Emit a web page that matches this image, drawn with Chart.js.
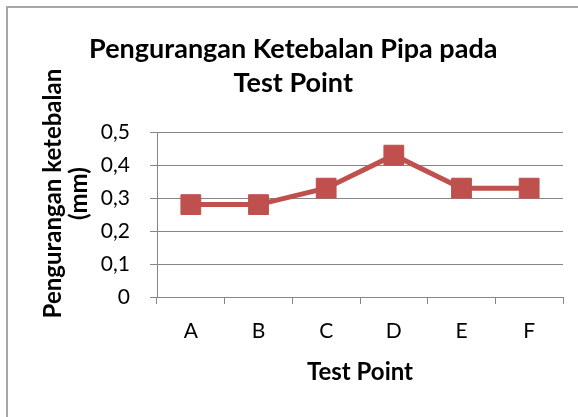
<!DOCTYPE html>
<html>
<head>
<meta charset="utf-8">
<script src="https://cdn.jsdelivr.net/npm/chart.js@4"></script>
<style>
    html, body { margin: 0; padding: 0; background: #fff; }
    .wrap { position: relative; width: 578px; height: 417px; overflow: hidden; }
    .frame {
        position: absolute; left: 6px; top: 6px; width: 700px; height: 600px;
        border-left: 2px solid #a6a6a6; border-top: 2px solid #a6a6a6;
        pointer-events: none;
    }
</style>
</head>
<body>
<div class="wrap">
    <canvas id="thicknessChart" width="578" height="417"></canvas>
    <div class="frame"></div>
</div>
<script>
// ========== DATA ==========
const testPoints = ['A', 'B', 'C', 'D', 'E', 'F'];
const thicknessLoss = [0.28, 0.28, 0.33, 0.43, 0.33, 0.33];
const yTickLabels = ['0', '0,1', '0,2', '0,3', '0,4', '0,5'];

const EM = '\u2003';
const EN = '\u2002';
const lineColor = '#C0504D';
const axisGray = '#868686';

// ========== CHART ==========
const ctx = document.getElementById('thicknessChart');
new Chart(ctx, {
    type: 'line',
    data: {
        labels: testPoints,
        datasets: [{
            label: 'Pengurangan ketebalan',
            data: thicknessLoss,
            borderColor: lineColor,
            backgroundColor: lineColor,
            borderWidth: 5,
            pointStyle: 'rect',
            pointRadius: 14,
            pointHoverRadius: 14,
            pointBackgroundColor: lineColor,
            pointBorderColor: lineColor,
            pointBorderWidth: 1,
            tension: 0,
            fill: false
        }]
    },
    options: {
        responsive: false,
        animation: false,
        layout: {
            padding: { left: 0, right: 5, top: 0, bottom: 0 }
        },
        plugins: {
            legend: { display: false },
            tooltip: { enabled: false },
            title: {
                display: true,
                text: [EN + 'Pengurangan Ketebalan Pipa pada', EN + 'Test Point'],
                color: '#000',
                font: { family: 'Lato', size: 27, weight: 'bold', lineHeight: 1.26 },
                padding: { top: 32, bottom: 32 }
            }
        },
        scales: {
            x: {
                offset: true,
                grid: {
                    display: true,
                    offset: true,
                    drawOnChartArea: false,
                    drawTicks: true,
                    tickLength: 7,
                    color: axisGray
                },
                border: { display: true, color: axisGray, width: 1 },
                ticks: {
                    color: '#000',
                    padding: 15,
                    font: { family: 'Lato', size: 21 }
                },
                title: {
                    display: true,
                    text: 'Test Point',
                    color: '#000',
                    font: { family: 'Lato', size: 24, weight: 'bold', lineHeight: 1.3 },
                    padding: { top: 0, bottom: 29 }
                },
                afterFit: function(scale) {
                    scale.height = 120;
                }
            },
            y: {
                min: 0,
                max: 0.5,
                grid: {
                    color: axisGray,
                    lineWidth: 1,
                    drawTicks: true,
                    tickLength: 7
                },
                border: { display: true, color: axisGray, width: 1 },
                ticks: {
                    stepSize: 0.1,
                    color: '#000',
                    padding: 20,
                    font: { family: 'Lato', size: 21 },
                    callback: function(value, index) {
                        return yTickLabels[index];
                    }
                },
                title: {
                    display: true,
                    text: [EM + EM + ' Pengurangan ketebalan', EM + EM + ' (mm)'],
                    color: '#000',
                    font: { family: 'Lato', size: 24, weight: 'bold', lineHeight: 1.1 },
                    padding: { top: 40, bottom: 0 }
                },
                afterFit: function(scale) {
                    scale.width = 157;
                }
            }
        }
    }
});
</script>
</body>
</html>
